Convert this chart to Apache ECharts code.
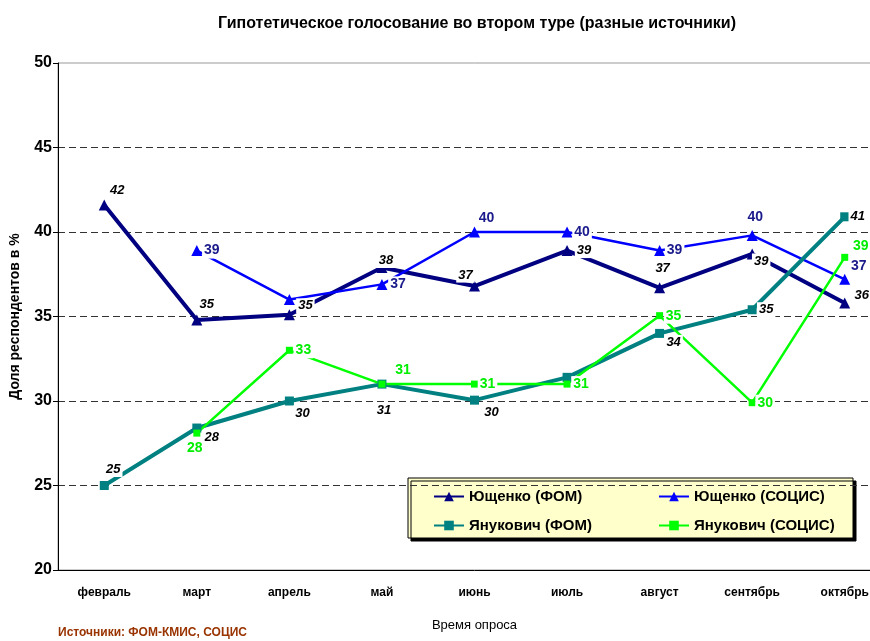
<!DOCTYPE html>
<html>
<head>
<meta charset="utf-8">
<script src="https://cdn.jsdelivr.net/npm/echarts@6/dist/echarts.min.js"></script>
<style>
  html, body { margin: 0; padding: 0; background: #fff; overflow: hidden; width: 870px; height: 641px; }
  /* область графика в оригинале обрезана справа */
  #chart { width: 900px; height: 641px; }
</style>
</head>
<body>
<div id="chart"></div>
<script>
// данные опросов
var months = ['февраль', 'март', 'апрель', 'май', 'июнь', 'июль', 'август', 'сентябрь', 'октябрь'];
var yushFom = [41.6, 34.8, 35.1, 37.9, 36.8, 38.9, 36.7, 38.7, 35.8];
var yushSocis = [null, 38.9, 36.0, 36.9, 40.0, 40.0, 38.9, 39.8, 37.2];
var yanFom = [25.0, 28.4, 30.0, 31.0, 30.05, 31.4, 34.0, 35.4, 40.9];
var yanSocis = [null, 28.1, 33.0, 31.0, 31.0, 31.0, 35.05, 29.9, 38.5];

// подписи (как на картинке, округлённые)
var yushFomLbl = ['42', '35', '35', '38', '37', '39', '37', '39', '36'];
var yushSocisLbl = ['', '39', '', '37', '40', '40', '39', '40', '37'];
var yanFomLbl = ['25', '28', '30', '31', '30', '', '34', '35', '41'];
var yanSocisLbl = ['', '28', '33', '31', '31', '31', '35', '30', '39'];

// смещения подписей относительно точек
var yushFomOff = [[13, -15], [10, -15], [16, -9], [4, -7], [-9, -11], [17, 0], [3, -19], [9, 7], [17, -8]];
var yushSocisOff = [[0, 0], [15, 0], [0, 0], [16, 0], [12, -14], [15, 0], [15, 0], [3, -18], [14, -13]];
var yanFomOff = [[9, -16], [15, 9], [13, 12], [2, 26], [17, 12], [0, 0], [14, 9], [14, 0], [13, 0]];
var yanSocisOff = [[0, 0], [-2, 15], [14, 0], [21, -14], [13, 0], [14, 0], [14, 0], [13, 0], [16, -11]];

var FONT = "'Liberation Sans', Arial, sans-serif";

function makeData (vals, lbls, offs, style) {
  return vals.map(function (v, i) {
    var item = { value: v };
    if (lbls[i]) {
      item.label = Object.assign({ show: true, position: 'inside', formatter: lbls[i], offset: offs[i] }, style);
    }
    return item;
  });
}

var fomLabel = { color: '#000', fontStyle: 'italic', fontWeight: 'bold', fontSize: 13 };
var baseLabel = { backgroundColor: '#fff', padding: [1, 2], fontFamily: FONT, align: 'center', verticalAlign: 'middle' };
var legendText = { fontFamily: FONT, fontSize: 15, fontWeight: 'bold', color: '#000' };

var chart = echarts.init(document.getElementById('chart'));
var option = {
  animation: false,
  textStyle: { fontFamily: FONT },
  title: {
    text: 'Гипотетическое голосование во втором туре (разные источники)',
    left: 472,
    textAlign: 'center',
    top: 11,
    textStyle: { fontFamily: FONT, fontSize: 16, fontWeight: 'bold', color: '#000' }
  },
  grid: { left: 58, top: 63, right: 9, bottom: 71, show: true, borderColor: '#999', borderWidth: 1 },
  legend: [{
    orient: 'vertical',
    left: 433,
    top: 489,
    padding: 0,
    itemGap: 14,
    itemWidth: 30,
    itemHeight: 12,
    textStyle: legendText,
    data: ['Ющенко (ФОМ)', 'Янукович (ФОМ)']
  }, {
    orient: 'vertical',
    left: 658,
    top: 489,
    padding: 0,
    itemGap: 14,
    itemWidth: 30,
    itemHeight: 12,
    textStyle: legendText,
    data: ['Ющенко (СОЦИС)', 'Янукович (СОЦИС)']
  }],
  graphic: [{
    type: 'rect',
    z: 0,
    shape: { x: 408, y: 478, width: 445, height: 60 },
    style: { fill: '#FFFFCC', stroke: '#000', lineWidth: 1, shadowColor: '#000', shadowOffsetX: 3, shadowOffsetY: 3 }
  }, {
    type: 'text',
    left: 58,
    top: 627,
    style: { text: 'Источники: ФОМ-КМИС, СОЦИС', fill: '#993300', font: 'bold 12px ' + FONT }
  }],
  xAxis: {
    type: 'category',
    data: months,
    name: 'Время опроса',
    nameLocation: 'middle',
    nameGap: 49,
    nameTextStyle: { fontFamily: FONT, fontSize: 13, color: '#000' },
    axisLine: { lineStyle: { color: '#000', width: 1 } },
    axisTick: { length: 5, lineStyle: { color: '#000' } },
    axisLabel: { margin: 17, fontFamily: FONT, fontSize: 12, fontWeight: 'bold', color: '#000' }
  },
  yAxis: {
    type: 'value',
    min: 20,
    max: 50,
    interval: 5,
    name: 'Доля респондентов в %',
    nameLocation: 'middle',
    nameGap: 36,
    nameTextStyle: { fontFamily: FONT, fontSize: 14, fontWeight: 'bold', color: '#000' },
    axisLine: { show: true, lineStyle: { color: '#000', width: 1 } },
    axisTick: { show: true, length: 5, lineStyle: { color: '#000' } },
    axisLabel: { margin: 6, fontFamily: FONT, fontSize: 16, fontWeight: 'bold', color: '#000' },
    splitLine: { show: true, showMaxLine: false, lineStyle: { color: '#333', type: [7, 4], width: 1 } }
  },
  series: [{
    name: 'Ющенко (ФОМ)',
    type: 'line',
    symbol: 'triangle',
    symbolSize: 11,
    itemStyle: { color: '#000080' },
    lineStyle: { color: '#000080', width: 4 },
    label: baseLabel,
    data: makeData(yushFom, yushFomLbl, yushFomOff, fomLabel)
  }, {
    name: 'Ющенко (СОЦИС)',
    type: 'line',
    symbol: 'triangle',
    symbolSize: 11,
    itemStyle: { color: '#0000FF' },
    lineStyle: { color: '#0000FF', width: 2.5 },
    label: baseLabel,
    data: makeData(yushSocis, yushSocisLbl, yushSocisOff, { color: '#1a1a8c', fontWeight: 'bold', fontSize: 14 })
  }, {
    name: 'Янукович (ФОМ)',
    type: 'line',
    symbol: 'rect',
    symbolSize: 9,
    itemStyle: { color: '#008080' },
    lineStyle: { color: '#008080', width: 4 },
    label: baseLabel,
    data: makeData(yanFom, yanFomLbl, yanFomOff, fomLabel)
  }, {
    name: 'Янукович (СОЦИС)',
    type: 'line',
    symbol: 'rect',
    symbolSize: 7,
    itemStyle: { color: '#00FF00' },
    lineStyle: { color: '#00FF00', width: 2.5 },
    label: baseLabel,
    data: makeData(yanSocis, yanSocisLbl, yanSocisOff, { color: '#00EE00', fontWeight: 'bold', fontSize: 14 })
  }]
};
chart.setOption(option);
</script>
</body>
</html>
